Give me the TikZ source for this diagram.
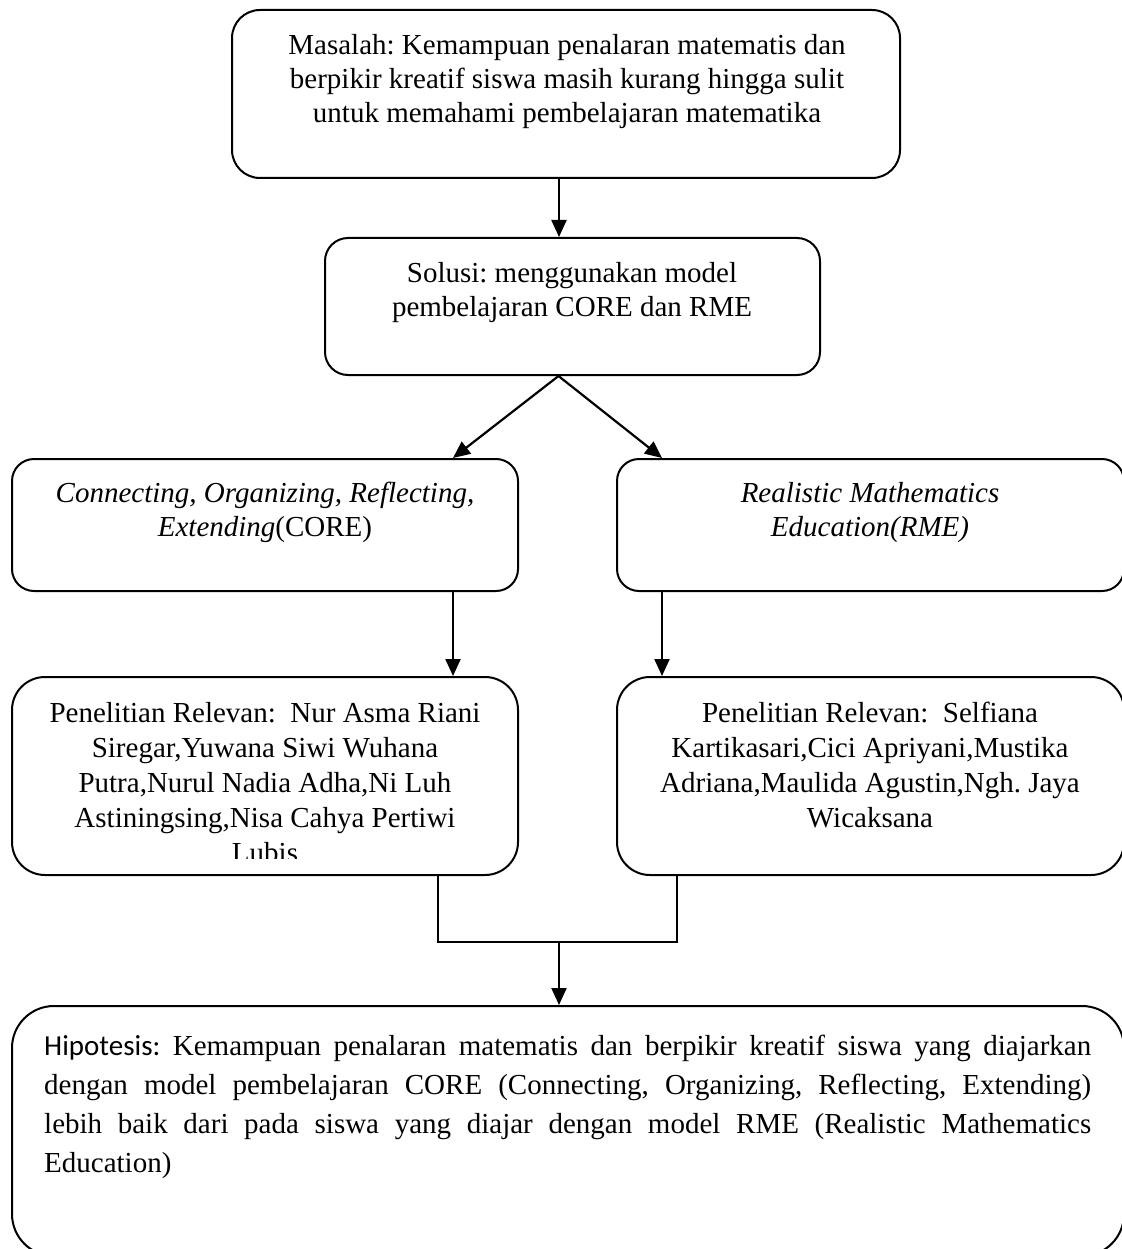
\documentclass[tikz,border=0pt]{standalone}
\usepackage{fontspec}
\setmainfont{Liberation Serif}
\newfontfamily\hipfont{Carlito}
\usetikzlibrary{arrows.meta}
\frenchspacing
\tikzset{
  box/.style={draw,line width=2pt,rounded corners=#1,inner sep=0pt},
  box/.default=22pt,
  txt/.style={align=center,inner sep=0pt,font=\fontsize{29}{34}\selectfont},
  arr/.style={line width=2.2pt,-{Triangle[length=17pt,width=15pt]}}
}

\begin{document}
\begin{tikzpicture}[x=1pt,y=-1pt]
\useasboundingbox (0,0) rectangle (1121,1249);
\node (masalah) at (566,94) [box=28pt,minimum width=668pt,minimum height=168pt]{};
\node (solusi) at (572.5,306.5) [box=23pt,minimum width=495pt,minimum height=137pt]{};
\node (core) at (265,525) [box,minimum width=506pt,minimum height=132pt]{};
\node (rme) at (870.5,525) [box,minimum width=507pt,minimum height=132pt]{};
\node (relcore) at (265,776) [box=33pt,minimum width=506pt,minimum height=198pt]{};
\node (relrme) at (870.5,776) [box=33pt,minimum width=507pt,minimum height=198pt]{};
\node (hipotesis) at (568,1131) [box=42pt,minimum width=1112pt,minimum height=250pt]{};
\node (masalah-t) at (567,34) [txt,anchor=north]{Masalah: Kemampuan penalaran matematis dan\\berpikir kreatif siswa masih kurang hingga sulit\\untuk memahami pembelajaran matematika};
\node (solusi-t) at (572,262) [txt,anchor=north]{Solusi: menggunakan model\\pembelajaran CORE dan RME};
\node (core-t) at (265,482) [txt,anchor=north]{\textit{Connecting, Organizing, Reflecting,}\\\textit{Extending}(CORE)};
\node (rme-t) at (870,482) [txt,anchor=north]{\textit{Realistic Mathematics}\\\textit{Education(RME)}};
\begin{scope}
\clip (relcore.north west) rectangle ([yshift=18pt]relcore.south east);
\node (relcore-t) at (265,702) [txt,anchor=north,font=\fontsize{29}{35}\selectfont]{Penelitian Relevan:~ Nur Asma Riani\\Siregar,Yuwana Siwi Wuhana\\Putra,Nurul Nadia Adha,Ni Luh\\Astiningsing,Nisa Cahya Pertiwi\\Lubis};
\end{scope}
\node (relrme-t) at (870,702) [txt,anchor=north,font=\fontsize{29}{35}\selectfont]{Penelitian Relevan:~ Selfiana\\Kartikasari,Cici Apriyani,Mustika\\Adriana,Maulida Agustin,Ngh. Jaya\\Wicaksana};
\node (hipotesis-t) at (44,1035) [txt,align=justify,text width=1047pt,anchor=north west,font=\fontsize{29}{39}\selectfont]{{\hipfont Hipotesis:} Kemampuan penalaran matematis dan berpikir kreatif siswa yang diajarkan\linebreak dengan model pembelajaran CORE (Connecting, Organizing, Reflecting, Extending)\linebreak lebih baik dari pada siswa yang diajar dengan model RME (Realistic Mathematics\linebreak Education)};
\draw [arr] ([xshift=-7pt]masalah.south) -- ([xshift=-7pt]masalah.south |- solusi.north);
\draw [arr] ([xshift=-14pt]solusi.south) -- ([xshift=188pt]core.north);
\draw [arr] ([xshift=-14pt]solusi.south) -- ([xshift=-208.5pt]rme.north);
\draw [arr] ([xshift=188pt]core.south) -- ([xshift=188pt]relcore.north);
\draw [arr] ([xshift=-208.5pt]rme.south) -- ([xshift=-208.5pt]relrme.north);
\coordinate (gabung) at (559,942);
\draw [line width=2.2pt] ([xshift=173pt]relcore.south) |- (gabung) -| ([xshift=-193.5pt]relrme.south);
\draw [arr] (gabung) -- (gabung |- hipotesis.north);
\end{tikzpicture}
\end{document}
